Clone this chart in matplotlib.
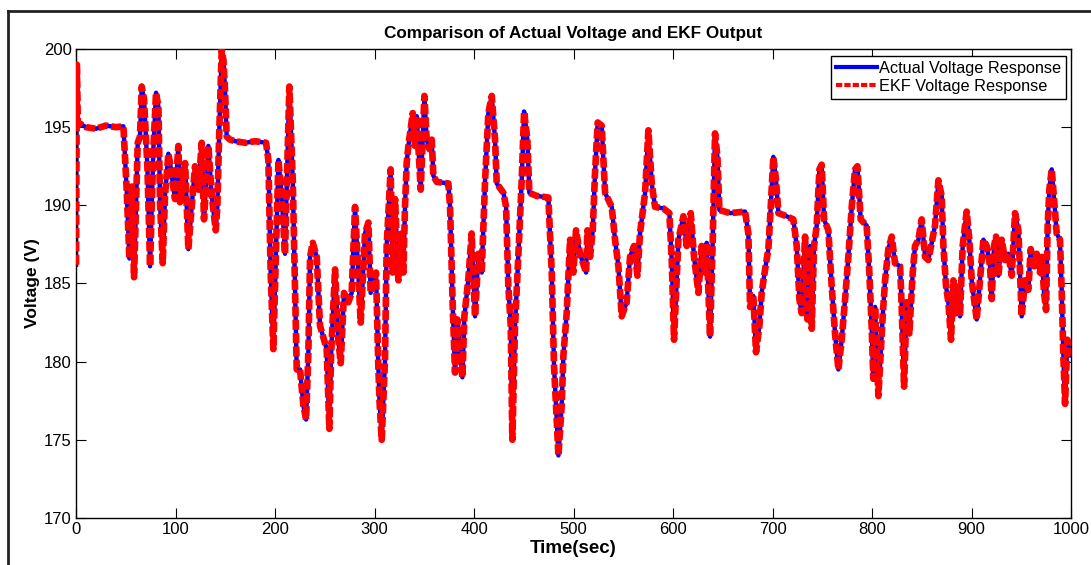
import matplotlib
matplotlib.use("Agg")
import matplotlib.pyplot as plt
from matplotlib.lines import Line2D

t_sec = [0, 0.8, 1.8, 10, 20, 30, 40, 47.6,
         50.9, 53.6, 56.0, 58.3, 62.0, 64.3, 66.0, 68.3, 71.7, 74.4, 77.7, 80.4,
         82.8, 84.4, 87.1, 89.4, 92.8, 94.5, 99.5, 102.8, 104.5, 109.6, 112.9,
         116.2, 119.6, 123.0, 126.3, 128.6, 133.0, 136.4, 140.4, 142.0, 143.7,
         146.4, 148.1, 149.7, 151.4, 154.8, 160, 170, 180, 191.0,
         193.3, 195.6, 198.3, 203.4, 206.7, 210.0, 214.4, 217.8, 220.1, 221.8,
         225.1, 228.5, 231.2, 233.5, 235.2, 237.9, 241.9, 245.2, 249.2, 251.9,
         254.6, 256.3, 260.3, 263.6, 266.0, 269.3, 273.7, 277.0, 280.4, 282.7,
         286.1, 290.4, 293.8, 296.1, 301.5, 303.8, 304.9, 307.2, 310.5, 312.2,
         316.2, 318.2, 320.6, 324.0, 327.3, 329.0, 330.6, 332.3, 334.0, 338.4,
         340.7, 342.4, 346.4, 350.1, 352.4, 355.1, 357.5, 359.1, 362.5, 374.2,
         375.9, 378.6, 380.9, 383.2, 388.3, 390.3, 394.3, 397.6, 401.0, 404.4,
         407.7, 411.1, 414.4, 417.8, 421.1, 422.8, 429.5, 432.2, 434.5, 436.9,
         438.5, 441.2, 444.6, 447.9, 450.3, 453.6, 455.6, 463.0, 474.7, 478.1,
         480.4, 482.4, 484.8, 488.1, 489.8, 493.1, 496.5, 499.8, 502.5, 506.5,
         512.6, 513.9, 516.6, 519.3, 521.6, 524.3, 528.3, 531.7, 538.4, 541.7,
         545.1, 548.4, 553.4, 556.8, 560.8, 564.2, 566.8, 571.9, 575.2, 578.6,
         581.9, 590.3, 596.3, 598.7, 601.0, 605.4, 610.4, 613.7, 617.8, 621.1,
         625.5, 628.8, 632.2, 633.8, 637.2, 639.9, 642.2, 644.6, 646.6, 657.3,
         672.4, 675.7, 677.4, 680.7, 683.4, 686.8, 689.1, 692.5, 695.8, 698.2,
         700.8, 703.5, 705.9, 714.2, 720.9, 724.3, 727.0, 729.3, 732.7, 735.0,
         737.7, 739.4, 741.7, 744.4, 747.1, 749.4, 751.8, 756.1, 759.5, 762.8,
         766.2, 769.5, 772.9, 776.2, 779.6, 782.9, 785.3, 788.6, 794.6, 797.3,
         799.7, 801.3, 803.0, 806.4, 810.7, 813.1, 816.4, 819.8, 823.1, 828.2,
         829.8, 832.2, 834.8, 837.5, 840.9, 843.2, 846.6, 849.9, 853.3, 856.6,
         860.0, 863.3, 866.7, 870.0, 871.7, 874.4, 876.7, 879.4, 881.7, 884.4,
         886.8, 888.4, 891.1, 895.1, 897.8, 900.2, 902.5, 905.2, 908.5, 911.9,
         915.2, 918.6, 920.3, 922.6, 924.6, 927.0, 930.3, 933.7, 937.0, 940.4,
         943.7, 947.1, 950.4, 953.8, 957.1, 959.5, 962.8, 965.5, 968.8, 970.5,
         972.9, 974.9, 976.5, 978.2, 980.6, 982.9, 985.6, 988.9, 990.6, 992.3,
         994.0, 996.3, 999.0]

v_actual = [186.2, 199.0, 195.3, 195.0, 194.9, 195.1, 195.0, 195.05,
            191.0, 186.6, 191.2, 185.4, 194.0, 194.4, 197.6, 196.8, 192.5, 186.1, 193.6, 197.2,
            196.3, 190.2, 186.3, 190.6, 193.3, 192.7, 190.4, 193.8, 190.2, 192.7, 187.2,
            189.9, 192.5, 191.0, 194.0, 189.1, 193.8, 190.6, 188.4, 189.9, 194.2,
            199.9, 199.3, 197.4, 194.4, 194.2, 194.1, 194.0, 194.1, 194.0,
            192.9, 185.7, 180.8, 192.9, 190.6, 186.9, 197.6, 191.6, 184.8, 179.5,
            179.5, 177.2, 176.3, 180.6, 186.7, 187.6, 186.7, 182.3, 181.4, 180.8,
            175.7, 180.4, 185.9, 181.4, 179.9, 184.4, 183.8, 184.4, 189.9, 186.9,
            182.5, 188.2, 188.9, 184.4, 185.7, 179.7, 177.6, 175.0, 180.1, 187.4,
            192.3, 185.7, 190.4, 185.2, 188.2, 185.7, 189.9, 192.7, 193.8, 195.9,
            193.8, 195.7, 191.0, 197.0, 194.2, 193.6, 194.2, 191.9, 191.5, 191.4,
            189.9, 183.5, 179.3, 182.7, 179.0, 182.9, 185.3, 188.2, 182.9, 186.9,
            185.7, 191.6, 195.9, 197.0, 194.2, 191.4, 190.8, 189.9, 184.8, 182.3,
            175.0, 182.3, 186.9, 191.6, 196.0, 194.2, 190.8, 190.6, 190.5, 185.7,
            179.7, 177.2, 174.0, 177.2, 180.4, 183.1, 187.8, 185.7, 188.4, 186.9,
            185.7, 188.4, 186.7, 188.4, 192.1, 195.3, 195.1, 190.8, 189.9, 187.8,
            186.1, 182.9, 183.8, 186.7, 187.4, 185.5, 188.2, 190.8, 194.8, 191.4,
            189.9, 189.8, 189.5, 186.5, 181.4, 187.8, 189.3, 187.4, 189.5, 186.7,
            184.4, 187.4, 185.7, 187.6, 181.6, 187.8, 194.6, 193.1, 189.7, 189.5,
            189.6, 188.2, 183.5, 184.2, 180.6, 182.3, 184.4, 185.9, 187.2, 189.9,
            193.1, 191.6, 189.5, 189.3, 189.1, 187.4, 184.0, 183.1, 188.0, 182.7,
            187.4, 182.1, 187.4, 188.7, 192.3, 192.6, 189.1, 188.4, 184.8, 181.8,
            179.5, 181.4, 184.0, 186.7, 189.9, 192.3, 192.5, 189.1, 188.7, 185.7,
            182.1, 178.9, 183.5, 177.8, 182.9, 185.2, 187.2, 188.0, 186.3, 186.1,
            183.5, 178.4, 183.8, 181.8, 185.7, 187.4, 187.8, 189.1, 186.7, 186.5,
            187.6, 188.7, 191.6, 190.6, 187.4, 184.8, 183.8, 181.4, 185.2, 183.1,
            184.8, 182.9, 187.4, 189.6, 187.8, 185.2, 184.0, 182.7, 185.2, 187.8,
            187.4, 186.1, 184.0, 187.4, 188.0, 185.5, 187.8, 186.5, 186.9, 185.5,
            189.5, 188.4, 182.9, 185.2, 184.6, 187.2, 186.1, 186.9, 185.7, 186.7,
            184.4, 183.3, 188.7, 191.0, 192.3, 190.4, 188.2, 187.8, 184.6, 180.4,
            177.3, 181.4, 180.4]

# the EKF estimate sits on top of the measurement at this scale
v_ekf = list(v_actual)

x_ticks = list(range(0, 1001, 100))
y_ticks = list(range(170, 201, 5))

plt.rcParams['font.family'] = ['Liberation Sans', 'DejaVu Sans']

fig = plt.figure(figsize=(10.91, 5.65), dpi=100)
ax = fig.add_axes([0.0697, 0.0832, 0.912, 0.8301])

ax.plot(t_sec, v_actual, color='#0000ff', lw=3.2, label='Actual Voltage Response', zorder=2)
ax.plot(t_sec, v_ekf, color='#ff0000', lw=4.8, ls=(0, (1.5, 0.5)),
        label='EKF Voltage Response', zorder=3)

ax.set_xlim(0, 1000)
ax.set_ylim(170, 200)
ax.set_xticks(x_ticks)
ax.set_yticks(y_ticks)
ax.tick_params(direction='in', length=7, width=0.8, top=True, right=True,
               labelsize=12, pad=3)
for s in ax.spines.values():
    s.set_linewidth(1.0)

ax.set_title('Comparison of Actual Voltage and EKF Output', fontsize=12.3,
             fontweight='bold', pad=8)
ax.set_xlabel('Time(sec)', fontsize=13.5, fontweight='bold', labelpad=2)
ax.set_ylabel('Voltage (V)', fontsize=12.5, fontweight='bold', labelpad=3)

leg = ax.legend(loc='upper right', bbox_to_anchor=(0.995, 0.985), borderaxespad=0,
                fontsize=11.7, fancybox=False, edgecolor='black', framealpha=1,
                handlelength=2.5, handletextpad=0.15, borderpad=0.3, labelspacing=0.2)
leg.get_frame().set_linewidth(1.0)
for h in leg.get_lines():
    h.set_linewidth(3.0)

# outer frame of the original screenshot (top and left edges only)
fig.lines.append(Line2D([0.0073, 0.0073], [0, 0.9805], transform=fig.transFigure,
                        color='#222222', lw=2))
fig.lines.append(Line2D([0.0073, 1], [0.9805, 0.9805], transform=fig.transFigure,
                        color='#222222', lw=2))

fig.savefig('out.png', dpi=100)
